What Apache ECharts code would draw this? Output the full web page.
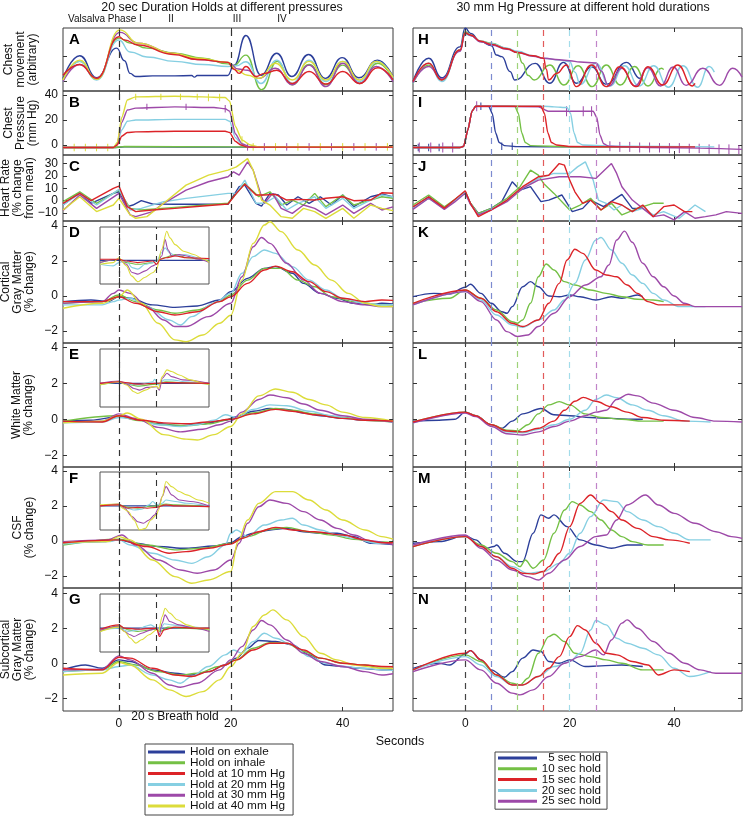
<!DOCTYPE html>
<html><head><meta charset="utf-8">
<script src="https://cdn.jsdelivr.net/npm/echarts@6/dist/echarts.min.js"></script>
<style>html,body{margin:0;padding:0;background:#fff}#c{width:743px;height:817px}</style>
</head><body><div id="c"></div>
<script>
const FONT = '"Liberation Sans", Arial, sans-serif';
const C_BLUE = '#2c3f9a', C_GREEN = '#74c045', C_RED = '#dc2328', C_CYAN = '#86cfe2', C_MAG = '#9d49a8', C_YEL = '#dcdc3a';

// ---- tick labels ----
const xTicks = [0, 20, 40];
const tickA = [1.5, 5.45];
const tickB = [0, 20, 40];
const tickC = [-10, 0, 10, 20, 30];
const tickBrain = [-2, 0, 2, 4];

// ---- legend names ----
const leftNames = ['Hold on exhale', 'Hold on inhale', 'Hold at 10 mm Hg', 'Hold at 20 mm Hg', 'Hold at 30 mm Hg', 'Hold at 40 mm Hg'];
const rightNames = ['5 sec hold', '10 sec hold', '15 sec hold', '20 sec hold', '25 sec hold'];
const holdEnds = [5, 10, 15, 20, 25];

// ===== LEFT COLUMN (time s, value) =====
// A chest movement (arbitrary)
const A_exh = [[-10,2.0],[-7,5.6],[-4,2.1],[-0.4,6.8],[1,4.8],[2,2.8],[3,2.3],[6,2.4],[10,2.4],[13,2.45],[13.5,2.2],[14,2.45],[19.4,2.45],[20.6,4.1],[22.7,8.8],[25.4,2.5],[28.2,6.0],[30.9,2.3],[33.9,5.8],[36.9,2.0],[39.9,5.3],[42.9,2.1],[46.2,4.9],[49,2.3]];
const A_inh = [[-10,1.75],[-7,4.7],[-4,1.85],[0,8.4],[2,7.6],[5,6.8],[10,6.0],[15,5.2],[19.5,4.3],[20.5,4.0],[22.7,5.7],[25.5,0.2],[28.3,4.7],[31,1.0],[34,4.2],[37,1.0],[40,4.1],[43,1.2],[46.3,4.4],[49,1.8]];
const A_10 = [[-10,2.5],[-7,4.2],[-4,2.0],[0,8.6],[1,8.1],[3.4,7.3],[9.7,5.8],[14,5.0],[19.5,4.55],[20.5,3.5],[21.5,2.8],[22.7,3.9],[24.5,2.3],[26,2.8],[28.2,3.3],[31,1.2],[34,3.1],[37,1.1],[40,3.1],[43,1.2],[46.3,3.7],[49,1.8]];
const A_20 = [[-10,1.5],[-7,4.7],[-4,1.75],[0,8.1],[2,6.2],[5,5.4],[10,4.7],[15,4.2],[19.5,3.9],[21,4.0],[22.7,4.65],[25.4,1.2],[28.2,4.9],[31,1.2],[34,4.9],[37,1.5],[40,4.7],[43,1.5],[46.2,4.7],[49,2.0]];
const A_30 = [[-10,1.5],[-7,4.2],[-4,2.0],[0.2,9.3],[3.4,7.6],[9.7,6.0],[14,5.0],[19.5,4.55],[21.3,3.5],[23,3.3],[25,2.0],[28,3.6],[31,1.0],[34,4.1],[37,0.7],[40,4.4],[43,1.2],[46,3.9],[49,1.5]];
const A_40 = [[-10,1.75],[-7,4.9],[-4,1.85],[0.2,9.7],[3.4,7.6],[9.7,6.0],[14,5.2],[19.5,4.55],[21,3.3],[23,2.5],[25,2.0],[28,4.4],[31,1.75],[34,4.7],[37,1.75],[40,4.7],[43,1.75],[46,4.7],[49,2.2]];
// B chest pressure (mm Hg)
const B_exh = [[-10,-2],[-1,-2],[1,-1.5],[20,-1.7],[49,-1.7]];
const B_inh = [[-10,-2],[-1,-2],[1,-1.2],[20,-1.5],[49,-1.7]];
const B_10 = [[-10,-2],[-1,-2],[-0.3,0],[0.5,7],[1.5,10],[3,10.5],[10,11],[19,11],[19.8,10],[20.8,3],[21.8,0],[23,-1.7],[49,-1.7]];
const B_20 = [[-10,-2],[-1,-2],[-0.3,1],[0.5,12],[1.5,19],[3,20],[10,20.5],[19,20.5],[19.8,19],[20.8,6],[22,0.5],[23,-1.7],[49,-1.7]];
const B_30 = [[-10,-2],[-1,-2],[-0.3,1],[0.5,18],[1.5,28],[3,29.5],[10,30.5],[17,30],[19,29],[19.8,27],[20.8,9],[22,1],[23.5,-1.7],[49,-1.7]];
const B_40 = [[-10,-2],[-1,-2],[-0.3,2],[0.5,22],[1.5,36],[3,38.5],[10,39],[15,38.5],[19,38],[19.8,35],[20.8,15],[22,4],[23.5,0],[25,-1.5],[49,-1.5]];
// B error bars [time, low, high]
const B_40_err = [[-8,-5,1],[-6,-5,1],[-4,-5,1],[-2,-5,1],[3,36,41],[7.5,36,41],[11,36,41],[14,36,41],[16,35,41],[18,35,41],[22,1,7],[24,-4.5,1.5],[28,-4.5,1.5],[32,-4.5,1.5],[36,-4.5,1.5],[40,-4.5,1.5],[44,-4.5,1.5],[48,-4.5,1.5]];
const B_30_err = [[5,28,33],[12,28,33],[19,26,32],[23,-4.5,1.5],[26,-4.5,1.5],[30,-4.5,1.5],[34,-4.5,1.5],[38,-4.5,1.5],[42,-4.5,1.5],[46,-4.5,1.5]];
// C heart rate (% change from mean)
const C_exh = [[-10,-3.5],[-7,6.7],[-5,-2.1],[-1,5.9],[0,7.2],[1.5,-4.8],[2.5,-3.5],[4,0],[6,-2.7],[10,-2.9],[15,-2.9],[19.5,-2.9],[21.5,11.3],[22.5,12.6],[24.5,-2.1],[25.5,-4.3],[27,5.9],[28.5,4.6],[30,-3.5],[32,3.2],[34,-2.1],[36,3.2],[38,-3.5],[40,4.6],[42,-4.8],[45,3.2],[47,5.4],[49,3]];
const C_inh = [[-10,-0.8],[-7,7.2],[-4,-2.1],[0,8.6],[2,-6.2],[4,-7.5],[10,-5.4],[19.5,-2.1],[22.5,13.9],[25,3.2],[27,7.2],[29,-3.5],[31,0.5],[33,-3.5],[35,5.9],[37,-4.8],[40,4.6],[42,-3.5],[45,0.5],[47,3.2],[49,2]];
const C_10 = [[-10,-2.1],[-7,5.9],[-5,0],[-1,9.9],[0,11.8],[1.5,-4.8],[3,-8.8],[6,-7.5],[10,-6.2],[15,-4.3],[19.5,-2.7],[21,5.9],[22.5,13.4],[24.5,4.6],[26,4.6],[28,5.1],[30,0.5],[32,1.1],[35,0.5],[37,2],[40,3.2],[42,0],[45,0.5],[47,6.4],[49,6]];
const C_20 = [[-10,-3.5],[-7,5.9],[-4,-3.5],[0,9.1],[2,-7.5],[4,-6.2],[8,-0.8],[12,1.9],[19.5,5.9],[21,6],[22.5,16.6],[24.5,-2.1],[26,-2.1],[28,3.2],[30,-7.5],[32,-2.1],[35,3.2],[37,-6.2],[40,1.9],[42,-6.2],[45,0.5],[47,4.6],[49,3]];
const C_30 = [[-10,-8.0],[-7,4.6],[-4,-6.2],[0,5.9],[2,-11.5],[3,-12.9],[6,-8.8],[8,-2.1],[12,8.6],[16,15.3],[19.5,19.3],[20.5,23.3],[21.5,20.6],[23,31.4],[24,24.7],[25.5,3.2],[26,-2.1],[27.5,5.9],[29,-6.2],[31,-10.2],[33,-3.5],[35,-6.2],[37,-11.5],[40,-3.5],[42,-10.2],[45,-2.1],[47,-7.5],[49,-5]];
const C_40 = [[-10,-7.5],[-7,3.2],[-4,-8.8],[-1,-3.5],[0,1.9],[2,-11.5],[3,-14.2],[5,-12.9],[8,-2.1],[12,12.6],[16,20.6],[19.5,24.7],[21,27.3],[23,34],[24,24.7],[25.5,0.5],[27,-3.5],[29,-12.9],[31,-14.2],[33,-6.2],[35,-8.8],[37,-14.2],[40,-6.2],[42,-14.2],[45,-3.5],[47,-6.2],[49,-8]];
// D cortical gray matter (% change)
const D_exh = [[-10,-0.32],[-5,-0.23],[-2,-0.32],[0,-0.04],[2,-0.13],[6,-0.51],[10,-0.65],[14,-0.57],[18,-0.23],[20,0.25],[23,1.01],[26,1.58],[28,1.68],[31,1.3],[33,0.72],[36,0.15],[39,-0.13],[42,-0.42],[45,-0.51],[47,-0.42],[49,-0.45]];
const D_inh = [[-10,-0.42],[-3,-0.32],[0,0.06],[3,-0.32],[7,-0.8],[10,-0.99],[14,-0.8],[18,-0.32],[20,0.06],[23,0.91],[26,1.58],[29,1.58],[32,0.91],[35,0.53],[38,-0.04],[42,-0.32],[47,-0.51],[49,-0.5]];
const D_10 = [[-10,-0.32],[-3,-0.32],[0,-0.04],[3,-0.42],[7,-0.9],[10,-1.09],[14,-0.9],[18,-0.32],[20,-0.04],[23,0.72],[26,1.49],[28,1.71],[31,1.39],[34,0.82],[37,0.25],[40,-0.13],[44,-0.32],[47,-0.23],[49,-0.25]];
const D_20 = [[-10,-0.51],[-3,-0.51],[-1,-0.32],[0,-0.23],[2,-0.13],[5,-0.61],[9,-1.37],[11,-1.66],[13,-1.18],[17,-0.42],[20,0.15],[22,1.3],[24,2.25],[26,2.63],[28,2.44],[31,1.68],[34,0.91],[37,0.34],[40,-0.13],[44,-0.42],[47,-0.51],[49,-0.5]];
const D_30 = [[-10,-0.42],[-3,-0.32],[-1,0.15],[0,0.34],[2,0.15],[5,-0.61],[8,-1.37],[10,-1.75],[12,-1.75],[16,-1.18],[20,-0.42],[22,1.1],[24,2.82],[25.5,3.35],[27,3.01],[30,1.87],[33,0.91],[36,0.15],[40,-0.32],[44,-0.51],[47,-0.61],[49,-0.6]];
const D_40 = [[-10,-0.7],[-3,-0.42],[0,-0.04],[1.5,0.34],[4,-0.42],[7,-1.56],[10,-2.51],[12,-2.61],[15,-2.23],[18,-1.56],[20,-1.1],[22,0.91],[24,3.01],[26,4.06],[27,4.25],[29,3.68],[32,2.63],[35,1.77],[38,0.91],[41,0.15],[44,-0.42],[47,-0.61],[49,-0.6]];
// D inset
const Di_exh = [[-10,0],[48,0]];
const Di_inh = [[-10,-0.13],[0,0.06],[4,-0.13],[10,-0.23],[18,-0.13],[20,-0.04],[24,0.15],[30,0.34],[36,0.15],[48,-0.04]];
const Di_10 = [[-10,0.06],[0,0.06],[4,-0.04],[10,-0.13],[18,-0.04],[20,-0.23],[22,0.06],[25,0.15],[30,0.25],[36,0.15],[48,0.1]];
const Di_20 = [[-10,-0.23],[-3,-0.32],[0,-0.13],[4,-0.04],[7,-0.42],[10,-0.51],[14,-0.23],[18,-0.13],[20,-0.04],[22.7,0.44],[24.5,0.72],[27,0.44],[30,0.25],[35,0.34],[42,0.15],[48,-0.13]];
const Di_30 = [[-10,-0.13],[0,0.06],[4,-0.23],[7,-0.7],[10,-0.8],[14,-0.61],[18,-0.32],[20,-0.23],[22.7,0.25],[24.5,1.2],[26,0.63],[28,0.25],[32,0.34],[36,0.25],[42,0.06],[48,-0.13]];
const Di_40 = [[-10,-0.23],[-3,-0.13],[0,0.15],[4,-0.32],[6.7,-0.9],[10.2,-1.24],[13.7,-0.99],[18.2,-0.7],[20,-0.51],[22.7,0.63],[25.4,1.68],[27.1,1.3],[29.8,0.91],[34.3,0.53],[39.7,0.34],[45,0.06],[48,-0.13]];
// E white matter (% change)
const E_exh = [[-10,-0.1],[-5,-0.05],[0,0.15],[3,0],[7,-0.25],[11,-0.35],[15,-0.25],[19,-0.05],[21,0.15],[24,0.45],[27,0.6],[30,0.55],[33,0.35],[36,0.2],[40,0.05],[44,-0.05],[49,-0.1]];
const E_inh = [[-10,-0.1],[0,0.2],[3,-0.05],[8,-0.3],[12,-0.35],[16,-0.25],[20,0],[24,0.35],[28,0.6],[31,0.5],[35,0.3],[40,0.1],[44,-0.05],[49,-0.15]];
const E_10 = [[-10,-0.1],[-3,-0.15],[0,0.2],[4,-0.05],[8,-0.2],[12,-0.25],[16,-0.15],[20,0.0],[24,0.3],[28,0.55],[31,0.45],[35,0.25],[40,0.05],[44,-0.05],[49,-0.1]];
const E_20 = [[-10,-0.2],[-3,-0.15],[0,0.1],[3,0.0],[7,-0.3],[11,-0.4],[14,-0.3],[17,-0.05],[19,0.25],[21,0.1],[24,0.55],[27,0.8],[30,0.75],[34,0.45],[38,0.2],[42,0.0],[49,-0.15]];
const E_30 = [[-10,-0.15],[-3,-0.1],[0,0.3],[3,0.05],[7,-0.45],[11,-0.7],[15,-0.55],[18,-0.3],[20,-0.1],[22,0.4],[25,1.1],[27,1.35],[30,1.2],[33,0.85],[36,0.5],[40,0.2],[44,0.0],[49,-0.15]];
const E_40 = [[-10,-0.2],[-3,-0.1],[0,0.2],[1.5,0.35],[4,0],[8,-0.85],[12,-1.1],[14,-1.15],[17,-0.85],[20,-0.4],[22,0.3],[25,1.3],[28,1.68],[31,1.5],[34,1.1],[37,0.8],[40,0.4],[44,0.1],[49,-0.1]];
// E inset
const Ei_exh = [[-10,0],[48,0]];
const Ei_inh = [[-10,-0.07],[0,0.07],[10,-0.15],[20,-0.04],[25,0.09],[35,0.04],[48,-0.04]];
const Ei_10 = [[-10,0],[0,0.09],[10,-0.04],[20,0],[25,0.04],[48,0]];
const Ei_20 = [[-10,-0.04],[0,0.07],[10,-0.09],[18,0.09],[19,0.22],[21,-0.09],[24,0.19],[28,0.19],[35,0.09],[48,0]];
const Ei_30 = [[-10,0],[0,0.13],[4,-0.04],[8,-0.28],[11,-0.37],[15,-0.22],[20,-0.19],[21.5,-0.37],[23,0.28],[25.5,0.56],[28,0.37],[34,0.19],[48,0]];
const Ei_40 = [[-10,-0.09],[0,0.09],[4,-0.09],[8,-0.46],[10,-0.56],[14,-0.37],[18,-0.19],[20,-0.15],[21,-0.28],[23,0.37],[25.5,0.74],[28,0.65],[32,0.46],[38,0.19],[45,0],[48,-0.04]];
// F CSF (% change)
const F_exh = [[-10,-0.13],[-3,-0.04],[0,0.06],[3,-0.13],[7,-0.32],[12,-0.42],[17,-0.29],[20,-0.1],[22,0.25],[24,0.44],[27,0.63],[30,0.72],[33,0.53],[36,0.44],[39,0.44],[42,0.25],[45,-0.13],[49,-0.2]];
const F_inh = [[-10,-0.23],[0,0.1],[5,-0.23],[10,-0.51],[15,-0.42],[20,-0.13],[23,0.25],[27,0.67],[30,0.78],[34,0.53],[38,0.34],[42,0.1],[46,-0.04],[49,-0.1]];
const F_10 = [[-10,-0.1],[0,0.06],[5,-0.32],[9,-0.7],[12,-0.61],[16,-0.42],[20,-0.17],[22,0.15],[25,0.53],[28,0.78],[31,0.63],[35,0.53],[40,0.34],[44,0.06],[47,-0.1],[49,-0.1]];
const F_20 = [[-10,-0.17],[-2,-0.04],[0,0.06],[2,-0.23],[6,-0.7],[10,-1.09],[13,-1.28],[16,-0.9],[19,-0.23],[20,0.44],[21,0.63],[23,0.25],[26,0.91],[29,1.2],[31,1.3],[33,0.91],[36,0.63],[39,0.34],[42,0.15],[46,-0.13],[49,-0.15]];
const F_30 = [[-10,-0.04],[-2,0.06],[0.5,0.34],[3,-0.23],[7,-1.09],[11,-1.66],[14,-1.85],[17,-1.66],[20,-1.09],[21.5,-0.13],[23,1.01],[25,1.96],[27,2.34],[30,2.15],[33,1.68],[36,1.2],[39,0.72],[42,0.34],[45,0],[49,-0.2]];
const F_40 = [[-10,-0.1],[-2,-0.04],[0,0.25],[2,0.06],[6,-1.09],[10,-2.04],[13,-2.42],[16,-2.23],[20,-1.75],[21.3,0],[23,1.2],[25,2.15],[28,2.82],[31,2.82],[34,2.34],[37,1.77],[40,1.2],[44,0.63],[47,0.25],[49,0.1]];
// F inset
const Fi_exh = [[-10,0],[48,0]];
const Fi_inh = [[-10,0],[0,0.06],[5,-0.08],[10,-0.13],[15,-0.04],[20,0],[25,0.11],[30,0.06],[48,-0.04]];
const Fi_10 = [[-10,0],[0,0.06],[5,-0.13],[10,-0.08],[15,-0.13],[20,-0.08],[25,0.06],[30,0],[48,-0.04]];
const Fi_20 = [[-10,0],[0,0.06],[4,-0.13],[8,-0.23],[12,-0.19],[16,0.06],[18,0.25],[20,0.06],[23,0.15],[25,0.34],[30,0.25],[36,0.15],[48,0]];
const Fi_30 = [[-10,0],[0,0.11],[3,-0.13],[7,-0.61],[10,-0.9],[13,-0.99],[16,-0.8],[19,-0.51],[21,-0.13],[23,0.53],[25,1.1],[28,0.63],[32,0.34],[38,0.25],[48,0]];
const Fi_40 = [[-10,0.06],[0,0.11],[2,-0.13],[5,-0.32],[8,-0.8],[11,-1.37],[14,-1.28],[17,-0.8],[20,-0.51],[21,-0.23],[23,0.53],[25,1.39],[28,1.1],[32,0.82],[36,0.63],[42,0.34],[48,0.15]];
// G subcortical gray matter (% change)
const G_exh = [[-10,-0.38],[-6,-0.1],[-3,-0.29],[0,0.19],[2,0.1],[6,-0.38],[10,-0.57],[13,-0.67],[16,-0.48],[19,-0.1],[21,0.29],[23,0.86],[25,1.3],[28,1.24],[31,1.05],[34,0.48],[37,-0.1],[40,-0.19],[43,-0.29],[47,-0.38],[49,-0.35]];
const G_inh = [[-10,-0.48],[-3,-0.38],[0,0.1],[3,-0.1],[7,-0.48],[11,-0.67],[14,-0.57],[18,-0.19],[21,0.19],[24,0.86],[27,1.18],[30,1.14],[33,0.67],[36,0.29],[40,0],[44,-0.1],[47,-0.29],[49,-0.3]];
const G_10 = [[-10,-0.29],[-3,-0.38],[0,0.34],[2,0.29],[6,-0.29],[10,-0.67],[13,-0.76],[16,-0.48],[19,-0.1],[21,0.19],[24,0.76],[27,1.14],[30,1.14],[33,0.76],[36,0.29],[40,0],[44,-0.1],[47,-0.19],[49,-0.2]];
const G_20 = [[-10,-0.48],[-3,-0.38],[0,-0.19],[2,-0.1],[6,-0.67],[9,-0.95],[11,-1.14],[13,-0.76],[16,-0.19],[19,0.48],[20.5,0.76],[22,0.57],[24,1.24],[26,1.71],[28,1.43],[31,1.05],[34,0.38],[37,0],[40,-0.19],[44,-0.29],[47,-0.38],[49,-0.4]];
const G_30 = [[-10,-0.38],[-3,-0.34],[0,0.42],[2,0.19],[6,-0.57],[9,-1.24],[11,-1.37],[14,-1.14],[18,-0.38],[20,0.19],[22,0.95],[24,1.9],[25.5,2.44],[27,2.19],[30,1.33],[33,0.57],[36,0.1],[40,-0.19],[44,-0.48],[47,-0.67],[49,-0.6]];
const G_40 = [[-10,-0.67],[-3,-0.57],[0,0.04],[2,-0.1],[6,-0.95],[9,-1.52],[12,-1.9],[15,-1.62],[18,-0.95],[20,-0.19],[22,0.57],[24,2.1],[26,2.76],[27.5,3.05],[30,2.48],[33,1.52],[36,0.57],[39,0.19],[42,-0.1],[47,-0.29],[49,-0.3]];
// G inset
const Gi_exh = [[-10,0],[48,0]];
const Gi_inh = [[-10,-0.19],[0,0.13],[5,-0.1],[10,-0.19],[20,-0.06],[22,-0.19],[26,0.06],[35,0],[48,-0.1]];
const Gi_10 = [[-10,-0.06],[0,0.19],[3,0],[10,-0.06],[20,0],[21.5,-0.48],[24,-0.1],[30,0.06],[40,0],[48,0]];
const Gi_20 = [[-10,-0.1],[0,0],[5,-0.19],[10,-0.1],[14,0.1],[17,0.19],[20,0],[22,-0.1],[24,0.25],[28,0.19],[35,0.1],[48,-0.06]];
const Gi_30 = [[-10,-0.13],[0,0.1],[3,-0.19],[6,-0.38],[8,-0.48],[12,-0.29],[17,-0.1],[20,0],[21.5,-0.38],[23,0.29],[24.5,0.76],[27,0.38],[32,0.19],[40,0],[48,-0.19]];
const Gi_40 = [[-10,-0.19],[0,0.06],[3,-0.19],[6,-0.57],[9,-0.86],[12,-0.67],[16,-0.38],[20,-0.1],[21,-0.19],[23,0.67],[24.5,1.14],[27,0.86],[31,0.48],[36,0.19],[42,0],[48,-0.06]];

// ===== RIGHT COLUMN =====
// H chest movement
const H_5 = [[-10,1.5],[-7,5.2],[-4.5,2.1],[-1,7],[0,10],[1,9.15],[3,7.83],[5,7.2],[6,5.71],[7,5.45],[8.6,3.07],[9.5,1.75],[13.4,4.39],[16.2,1.22],[18.8,4.55],[21.3,1.22],[24.2,3.86],[27,1.06],[30.9,4.55],[33.5,2.0],[34,2.54]];
const H_10 = [[-10,1.2],[-7,4.1],[-4.5,1.75],[-1,6.5],[0,9.42],[1,8.9],[3,7.9],[5,7.57],[8,6.77],[10,6.1],[11,4.4],[12,2.5],[13.2,1.75],[16.2,4.13],[18.9,0.95],[21.6,4.0],[24.3,0.69],[27,4.13],[29.7,0.95],[32.4,3.9],[35,0.8],[37.6,3.6],[38,3.4]];
const H_15 = [[-10,1.5],[-7,4.4],[-4.5,1.75],[-1,6.5],[0,9.2],[1,8.9],[3,7.9],[5,7.4],[8,6.7],[10,6.1],[13,5.6],[15,5.2],[15.5,3.5],[16,1.75],[17.5,2.8],[19.4,4.13],[21.3,0.69],[24.2,4.13],[27,0.69],[29.6,3.86],[32.8,0.69],[35,3.86],[37.8,0.95],[40.7,4.13],[43.5,0.8],[44,1.2]];
const H_20 = [[-10,1.2],[-7,4.4],[-4.5,1.5],[-1,6.5],[0,9.0],[1,8.8],[3,7.9],[5,7.5],[8,6.8],[10,6.3],[13,5.6],[15,5.2],[18,4.9],[20,4.65],[21,3.0],[22,1.06],[25,4.4],[27.7,0.8],[30.5,4.0],[33.3,0.8],[36.1,4.0],[38.9,0.6],[41.7,4.0],[44.5,0.6],[46.7,3.9],[47.7,3.0]];
const H_25 = [[-10,1.3],[-7,3.9],[-4.5,1.9],[-1,6.3],[0,9.2],[1,8.8],[3,7.8],[5,7.3],[8,6.6],[10,6.1],[13,5.5],[15,5.2],[18,4.95],[20,4.8],[22,4.6],[25,4.45],[26,3.2],[27.5,0.8],[30,3.6],[32.5,0.8],[35,3.7],[37.4,0.8],[39.8,3.8],[42.3,0.9],[45.5,3.6],[48.7,0.9],[51.2,3.6],[53,2.2]];
// I chest pressure
const I_5 = [[-10,-2],[-1,-2],[-0.3,-1],[0.5,12],[1.3,27],[2,31],[4.5,31],[5.2,25],[5.8,10],[6.5,2],[7.5,-0.5],[10,-1.3],[20,-1.5],[34,-1.5]];
const I_10 = [[-10,-2],[-1,-2],[-0.3,-1],[0.5,12],[1.3,27],[2,31],[9.5,31],[10.2,25],[10.8,10],[11.5,2],[12.5,-0.5],[20,-1.5],[38,-1.5]];
const I_15 = [[-10,-2],[-1,-2],[-0.3,-1],[0.5,12],[1.3,27],[2,31],[14.5,31],[15.2,25],[15.8,10],[16.5,2],[17.5,0],[20,-1.2],[30,-1.5],[44,-1.5]];
const I_20 = [[-10,-2],[-1,-2],[-0.3,-1],[0.5,12],[1.3,27],[2,31],[15,31],[17,30.5],[19.5,30],[20.2,25],[20.8,10],[21.5,2],[22.5,0],[30,-1],[47.7,-1.5]];
const I_25 = [[-10,-2],[-1,-2],[-0.3,-1],[0.5,12],[1.3,27],[2,31],[14,30.5],[16,27],[24.5,27],[25.2,22],[25.8,8],[26.5,1],[27.5,-1],[35,-2],[45,-2.5],[53,-3.5]];
// I error bars [time, low, high]
const I_25_err = [[-8.8,-6,2],[-6.6,-6,2],[-4.3,-6,2],[-2.4,-6,2],[2.2,27,35],[19.4,23,31],[22.6,23,31],[24.2,23,31],[27.7,-5,3],[29.6,-5.5,2.5],[31.5,-5.5,2.5],[33.4,-6,2],[35.3,-6,2],[37.2,-6,1.5],[39.1,-6.5,1.5],[41,-6.5,1.5],[42.9,-6.5,1],[44.8,-6.5,1],[46.7,-7,0.5],[48.6,-7,0.5],[50.5,-7.5,0.5],[52.4,-7.5,0]];
const I_5_err = [[-9,-5,1],[-7,-5,1],[-5,-5,1],[3,28,34],[7,-4,2],[9,-4,2]];
// J heart rate
const J_5 = [[-10,-6.2],[-7,3.2],[-4,-6.2],[-2,0.5],[0,7.2],[1,-2.1],[2.5,-10.2],[5,-6.2],[7,-0.8],[9,15.3],[10.5,8.6],[12.5,11.3],[14.5,-0.8],[16,0.5],[18.5,4.6],[20.5,-8.8],[22.5,-6.2],[24,0.5],[26.5,-4.8],[30,5.1],[32,-6.2],[34,-6.2]];
const J_10 = [[-10,-3.5],[-7,4.6],[-4,-5],[-2,1],[0,7.2],[1,-2.1],[2.5,-10.2],[5,-6.2],[8,1.9],[10.5,11.3],[12.5,24.7],[14,20.6],[15,13.9],[17,5.9],[20,-7.5],[22,-3.5],[24,1.9],[26,-7.5],[28,-2.1],[30,-11.5],[33,-6.2],[36,-2.1],[38,-2.1]];
const J_15 = [[-10,-5],[-7,3.2],[-4,-6],[-2,1],[0,8],[1,-2.1],[2.5,-12.9],[5,-7.5],[8,0.5],[11,11.3],[14,19.3],[16,20.6],[18,30],[19,28.7],[20,16.6],[21,7.2],[22.5,-2.1],[24,0.5],[26,-7.5],[28,-0.8],[30,-3.5],[32,-8.8],[34,-3.5],[36,-12.9],[38,-4.8],[40,-3.5],[42,-8.8],[43.5,-8.8]];
const J_20 = [[-10,-6],[-7,2],[-4,-6.5],[-2,0],[0,6.5],[1,-2.5],[2.5,-11.5],[5,-7],[8,0.5],[11,9.9],[14,18],[17,22],[20,22],[21.5,27.3],[23,31.4],[24.5,16.6],[25.5,0.5],[27,-2.1],[28.5,-7.5],[30,-3.5],[32,-8.8],[34,-6.2],[36,-11.5],[38,-8.8],[41,-14.2],[44,-3.5],[46,-8.8]];
const J_25 = [[-10,-7],[-7,2],[-4,-7],[-2,-1],[0,6],[1,-3],[2.5,-11.5],[5,-7.5],[8,-0.8],[11,9.9],[14,16.6],[18,19.3],[22,19.3],[25,18],[26,22],[28,30],[29,22],[30,11.3],[32,0.5],[34,-6.2],[36,-12.9],[38,-11.5],[40,-15.5],[42,-8.8],[44,-14.2],[46,-12.9],[48,-11.5],[50,-8.8],[53,-10.2]];
// K cortical gray matter
const K_5 = [[-10,-0.04],[-6,0.15],[-3,0.11],[0,0.5],[1,0.67],[3,0.15],[5,-0.42],[7,-0.9],[8,-0.99],[9,-0.61],[11,0.53],[12.5,0.82],[14,0.53],[16,0],[18,-0.04],[20,0.06],[22,-0.04],[25,-0.23],[28,-0.04],[30,-0.13],[33,0.06],[34,-0.04]];
const K_10 = [[-10,-0.42],[-3,-0.13],[0,0.34],[3,-0.13],[6,-0.8],[9,-1.47],[10,-1.56],[11,-1.37],[12.5,-0.42],[14,1.1],[15.5,1.83],[17,1.49],[19,0.82],[21,0.63],[24,0.34],[27,0.15],[30,-0.04],[33,-0.19],[36,-0.23],[38,-0.32]];
const K_15 = [[-10,-0.42],[0,0.34],[3,-0.13],[6,-0.9],[9,-1.56],[11,-1.75],[14,-1.37],[16,-0.42],[18,0.72],[19.5,2.06],[21,2.67],[22.5,2.44],[25,1.49],[27,1.2],[29,1.1],[31,0.63],[33,0.15],[35,-0.32],[37,-0.51],[40,-0.51],[43,-0.51]];
const K_20 = [[-10,-0.51],[0,0.25],[3,-0.23],[6,-1.09],[9,-1.66],[11,-1.79],[14,-1.37],[17,-0.8],[19,-0.23],[21,0.72],[23,2.06],[25,3.2],[26,3.35],[28,2.63],[30,1.87],[32,1.2],[34,0.72],[36,0.15],[38,-0.23],[41,-0.61],[46,-0.61]];
const K_25 = [[-10,-0.51],[0,0.25],[3,-0.32],[6,-1.37],[8,-2.04],[10,-2.32],[12,-2.23],[14,-1.75],[17,-0.99],[20,-0.04],[23,0.63],[26,1.1],[27.5,1.77],[29,3.2],[30.5,3.71],[32,3.07],[34,1.87],[36,1.1],[38,0.53],[40,0],[42,-0.42],[44,-0.61],[47,-0.61],[53,-0.61]];
// L white matter
const L_5 = [[-10,-0.1],[-5,-0.05],[-2,0.0],[0,0.4],[2,0.2],[5,-0.3],[7,-0.5],[9,-0.1],[11,0.3],[14.5,0.6],[17,0.25],[20,0.2],[24,0.1],[28,0.05],[32,0.0],[34,0.0]];
const L_10 = [[-10,-0.15],[0,0.4],[2,0.2],[5,-0.3],[8,-0.6],[10,-0.65],[12,-0.3],[14,0.3],[16,0.8],[18,0.98],[20,0.8],[23,0.3],[26,0.1],[30,0.0],[34,-0.1],[38,-0.1]];
const L_15 = [[-10,-0.15],[0,0.4],[2,0.2],[5,-0.3],[8,-0.65],[11,-0.7],[14,-0.5],[17,-0.1],[19,0.5],[21,1.0],[22.6,1.22],[25,1.0],[28,0.7],[31,0.4],[34,0.1],[38,-0.05],[43,-0.1]];
const L_20 = [[-10,-0.2],[0,0.38],[2,0.2],[5,-0.35],[8,-0.7],[11,-0.75],[14,-0.55],[17,-0.3],[20,0.0],[23,0.5],[25,1.1],[27,1.35],[29,1.2],[32,0.8],[35,0.5],[38,0.2],[42,-0.1],[47,-0.15]];
const L_25 = [[-10,-0.2],[0,0.35],[2,0.15],[5,-0.4],[8,-0.8],[11,-0.87],[14,-0.7],[17,-0.4],[20,-0.1],[23,0.2],[25,0.4],[27,0.5],[29,1.1],[31.2,1.39],[33,1.3],[36,0.9],[40,0.5],[44,0.1],[48,-0.1],[53,-0.15]];
// M CSF
const M_5 = [[-10,-0.13],[-5,-0.04],[0,0.29],[2,0.06],[4,-0.42],[5.5,-0.32],[6,-0.23],[7.5,-0.7],[10,-1.18],[11,-1.18],[13,0.44],[14.5,1.49],[16,1.3],[17,1.49],[19.5,0.82],[22,0.06],[25,-0.23],[28,-0.42],[31,-0.23],[34,-0.23]];
const M_10 = [[-10,-0.32],[0,0.25],[3,-0.23],[6,-0.7],[9,-1.18],[10.5,-1.47],[11.5,-1.09],[13,-1.56],[15,-1.09],[17,0.44],[19,1.77],[20.5,2.25],[22,2.06],[24,1.68],[26,1.2],[28,0.63],[30,0.25],[32,-0.04],[35,-0.23],[38,-0.23]];
const M_15 = [[-10,-0.32],[0,0.25],[3,-0.32],[6,-0.9],[9,-1.56],[11,-1.85],[13,-1.89],[15,-1.75],[16,-1.47],[18,-0.7],[20,0.82],[22,2.15],[24,2.63],[26,2.15],[28,1.68],[30,1.2],[33,0.72],[36,0.25],[39,0.06],[43,-0.13]];
const M_20 = [[-10,-0.23],[0,0.25],[3,-0.32],[6,-0.9],[9,-1.47],[12,-1.85],[15,-1.75],[18,-1.28],[20,-0.7],[22,0.44],[24,1.39],[26.5,2.34],[29,2.25],[31,1.68],[34,1.2],[37,0.82],[40,0.44],[43,0.06],[47,0.06]];
const M_25 = [[-10,-0.23],[0,0.34],[3,-0.42],[6,-1.09],[9,-1.66],[12,-2.04],[14,-2.23],[16,-1.85],[19,-1.09],[22,-0.32],[25,0.25],[27,0.34],[29,1.2],[31,2.06],[34.5,2.63],[37,2.06],[40,1.58],[44,1.01],[48,0.53],[51,0.25],[53,0.15]];
// N subcortical gray matter
const N_5 = [[-10,-0.29],[-5,0],[-3,-0.1],[0,0.53],[1,0.72],[3,0.19],[5,-0.38],[7.5,-0.8],[9,-0.48],[11,0.29],[13,0.76],[14.5,0.67],[16,0.1],[18,0],[20,0.19],[23,-0.19],[26,-0.15],[30,-0.1],[34,-0.19]];
const N_10 = [[-10,-0.38],[0,0.48],[3,0.1],[6,-0.67],[9,-1.14],[10.5,-1.24],[12,-0.86],[14,0.57],[16,1.52],[17,1.66],[19,1.24],[21,0.57],[24,0.38],[27,0.19],[30,0],[34,-0.38],[38,-0.38]];
const N_15 = [[-10,-0.38],[0,0.57],[1,0.72],[3,0.19],[6,-0.67],[9,-1.24],[11,-1.24],[14,-0.76],[16,-0.29],[18,0.38],[20,1.52],[21.5,2.15],[23,1.9],[25,1.14],[27,0.57],[29,0.48],[32,0.1],[35,-0.1],[37,-0.67],[40,-0.38],[43,-0.48]];
const N_20 = [[-10,-0.38],[0,0.38],[3,-0.1],[6,-0.76],[9,-1.24],[11,-1.24],[14,-0.76],[17,-0.19],[20,0.1],[22,0.57],[24,1.9],[25,2.44],[27,2.19],[29,1.43],[31,1.14],[34,0.86],[37,0.48],[40,-0.29],[43,-0.76],[47,-0.48]];
const N_25 = [[-10,-0.48],[0,0.19],[3,-0.38],[6,-1.14],[9,-1.71],[10.5,-1.81],[13,-1.52],[16,-0.76],[19,0],[22,0.38],[25,0.76],[26.5,0.48],[28,1.33],[30,2.29],[31,2.48],[33,2.0],[36,1.24],[39,0.57],[42,0],[45,-0.38],[48,-0.57],[53,-0.57]];

// ===== layout & build =====
const leftColors = [C_BLUE, C_GREEN, C_RED, C_CYAN, C_MAG, C_YEL];
const rightColors = [C_BLUE, C_GREEN, C_RED, C_CYAN, C_MAG];
const leftDraw = [0, 1, 3, 4, 5, 2];
const rightDraw = [0, 1, 3, 4, 2];

const ROWS = [
  {top: 28, h: 63, min: 0, max: 10, ticks: tickA, smooth: 0.5, name: 'Chest\nmovement\n(arbitrary)', lx: 21, L: 'A', R: 'H',
   left: [A_exh, A_inh, A_10, A_20, A_30, A_40], right: [H_5, H_10, H_15, H_20, H_25]},
  {top: 91, h: 64, min: -8, max: 43.2, ticks: tickB, smooth: 0.2, name: 'Chest\nPresssure\n(mm Hg)', lx: 21, L: 'B', R: 'I',
   left: [B_exh, B_inh, B_10, B_20, B_30, B_40], right: [I_5, I_10, I_15, I_20, I_25],
   errL: [[B_30_err, C_MAG], [B_40_err, C_YEL]], errR: [[I_5_err, C_BLUE], [I_25_err, C_MAG]]},
  {top: 155, h: 66, min: -16.4, max: 36.9, ticks: tickC, smooth: false, name: 'Heart Rate\n(% change\nfrom mean)', lx: 18, L: 'C', R: 'J',
   left: [C_exh, C_inh, C_10, C_20, C_30, C_40], right: [J_5, J_10, J_15, J_20, J_25]},
  {top: 221, h: 122, min: -2.69, max: 4.29, ticks: tickBrain, smooth: 0.35, name: 'Cortical\nGray Matter\n(% change)', lx: 18, L: 'D', R: 'K',
   left: [D_exh, D_inh, D_10, D_20, D_30, D_40], right: [K_5, K_10, K_15, K_20, K_25],
   inset: {top: 227, h: 57, min: -1.37, max: 1.93, data: [Di_exh, Di_inh, Di_10, Di_20, Di_30, Di_40]}},
  {top: 343, h: 124, min: -2.65, max: 4.24, ticks: tickBrain, smooth: 0.35, name: 'White Matter\n(% change)', lx: 23, L: 'E', R: 'L',
   left: [E_exh, E_inh, E_10, E_20, E_30, E_40], right: [L_5, L_10, L_15, L_20, L_25],
   inset: {top: 349, h: 58, min: -1.3, max: 1.89, data: [Ei_exh, Ei_inh, Ei_10, Ei_20, Ei_30, Ei_40]}},
  {top: 467, h: 121, min: -2.69, max: 4.23, ticks: tickBrain, smooth: 0.35, name: 'CSF\n(% change)', lx: 24, L: 'F', R: 'M',
   left: [F_exh, F_inh, F_10, F_20, F_30, F_40], right: [M_5, M_10, M_15, M_20, M_25],
   inset: {top: 472, h: 58, min: -1.37, max: 1.93, data: [Fi_exh, Fi_inh, Fi_10, Fi_20, Fi_30, Fi_40]}},
  {top: 588, h: 123, min: -2.73, max: 4.3, ticks: tickBrain, smooth: 0.35, name: 'Subcortical\nGray Matter\n(% change)', lx: 18, L: 'G', R: 'N',
   left: [G_exh, G_inh, G_10, G_20, G_30, G_40], right: [N_5, N_10, N_15, N_20, N_25],
   inset: {top: 594, h: 58, min: -1.37, max: 1.96, data: [Gi_exh, Gi_inh, Gi_10, Gi_20, Gi_30, Gi_40]}}
];

const grids = [], xAxes = [], yAxes = [], series = [], texts = [];
const minusFmt = v => String(v).replace('-', '\u2212');

function addGrid(c) {
  const g = grids.length;
  grids.push({left: c.left, top: c.top, width: c.width, height: c.height, show: true,
    borderColor: c.border || '#3a3a3a', borderWidth: 1, backgroundColor: c.bg || 'transparent'});
  const tk = vals => ({show: !c.noTicks, inside: true, length: 4, customValues: vals, lineStyle: {color: '#333', width: 1}});
  const lab = {fontSize: 12, color: '#111', fontFamily: FONT};
  const noLine = {show: false, onZero: false};
  xAxes.push({type: 'value', gridIndex: g, position: 'bottom', min: c.xmin, max: c.xmax,
    axisLine: noLine, splitLine: {show: false}, axisTick: tk(xTicks),
    axisLabel: Object.assign({show: !!c.xLabels, customValues: xTicks, margin: 7}, lab)});
  xAxes.push({type: 'value', gridIndex: g, position: 'top', min: c.xmin, max: c.xmax,
    axisLine: noLine, splitLine: {show: false}, axisTick: tk(xTicks), axisLabel: {show: false}});
  yAxes.push({type: 'value', gridIndex: g, position: 'left', min: c.ymin, max: c.ymax,
    axisLine: noLine, splitLine: {show: false}, axisTick: tk(c.yTicks || []),
    axisLabel: Object.assign({show: !!c.yLabels, customValues: c.yTicks || [], margin: 5, formatter: minusFmt}, lab)});
  yAxes.push({type: 'value', gridIndex: g, position: 'right', min: c.ymin, max: c.ymax,
    axisLine: noLine, splitLine: {show: false}, axisTick: tk(c.yTicks || []), axisLabel: {show: false}});
  return g;
}

function addLine(g, name, color, data, smooth, markLine, width) {
  const s = {type: 'line', name, xAxisIndex: 2 * g, yAxisIndex: 2 * g, data, color,
    showSymbol: false, symbol: 'none', smooth: smooth, smoothMonotone: 'x', clip: true,
    lineStyle: {color, width: width || 1.4}, itemStyle: {color}, silent: true, animation: false};
  if (markLine) s.markLine = markLine;
  series.push(s);
}

function addErr(g, data, color) {
  series.push({type: 'custom', xAxisIndex: 2 * g, yAxisIndex: 2 * g, data, silent: true, animation: false, clip: true,
    encode: {x: 0, y: [1, 2]},
    renderItem: (params, api) => {
      const a = api.coord([api.value(0), api.value(1)]);
      const b = api.coord([api.value(0), api.value(2)]);
      return {type: 'line', shape: {x1: a[0], y1: a[1], x2: b[0], y2: b[1]}, style: {stroke: color, lineWidth: 1}};
    }});
}

function vLines(items) {
  return {silent: true, symbol: ['none', 'none'], label: {show: false}, animation: false,
    data: items.map(([x, col, w]) => ({xAxis: x, lineStyle: {color: col, type: [6, 5], width: w || 1.2}}))};
}

const dashCols = ['#7d8bd0', '#9fd27a', '#e25a5a', '#a3dcea', '#c184c9'];

ROWS.forEach((r, ri) => {
  const last = ri === ROWS.length - 1;
  // left panel
  const gl = addGrid({left: 63, top: r.top, width: 330, height: r.h, xmin: -10, xmax: 49,
    ymin: r.min, ymax: r.max, yTicks: r.ticks, yLabels: ri > 0, xLabels: last});
  if (r.errL) r.errL.forEach(([d, c]) => addErr(gl, d, c));
  leftDraw.forEach((i, k) => addLine(gl, leftNames[i], leftColors[i], r.left[i], r.smooth,
    k === 0 ? vLines([[0, '#333'], [20, '#333']]) : null));
  // right panel
  const gr = addGrid({left: 413, top: r.top, width: 329, height: r.h, xmin: -10, xmax: 53,
    ymin: r.min, ymax: r.max, yTicks: r.ticks, yLabels: false, xLabels: last});
  if (r.errR) r.errR.forEach(([d, c]) => addErr(gr, d, c));
  const marks = [[0, '#444']].concat(holdEnds.map((t, i) => [t, dashCols[i]]));
  rightDraw.forEach((i, k) => addLine(gr, rightNames[i], rightColors[i], r.right[i], r.smooth,
    k === 0 ? vLines(marks) : null));
  // inset
  if (r.inset) {
    const gi = addGrid({left: 100, top: r.inset.top, width: 109, height: r.inset.h, xmin: -10, xmax: 47.8,
      ymin: r.inset.min, ymax: r.inset.max, noTicks: true, border: '#555', bg: '#fff'});
    leftDraw.forEach((i, k) => addLine(gi, leftNames[i], leftColors[i], r.inset.data[i], 0.3,
      k === 0 ? vLines([[0, '#333', 1.1], [20, '#333', 1.1]]) : null, 1.1));
  }
  // texts
  texts.push({type: 'text', x: r.lx, y: r.top + r.h / 2, rotation: Math.PI / 2,
    style: {text: r.name, font: '12px ' + FONT, lineHeight: 12, fill: '#111',
      align: 'center', verticalAlign: 'middle', textAlign: 'center', textVerticalAlign: 'middle'}});
  texts.push({type: 'text', x: 69, y: r.top + 4,
    style: {text: r.L, font: 'bold 15px ' + FONT, fill: '#000', align: 'left', verticalAlign: 'top', textAlign: 'left', textVerticalAlign: 'top'}});
  texts.push({type: 'text', x: 418, y: r.top + 4,
    style: {text: r.R, font: 'bold 15px ' + FONT, fill: '#000', align: 'left', verticalAlign: 'top', textAlign: 'left', textVerticalAlign: 'top'}});
});

function T(text, x, y, size, align) {
  return {type: 'text', x, y, style: {text, font: size + 'px ' + FONT, fill: '#111',
    align: align || 'center', verticalAlign: 'middle', textAlign: align || 'center', textVerticalAlign: 'middle'}};
}
texts.push(T('20 sec Duration Holds at different pressures', 222, 8, 12.4));
texts.push(T('30 mm Hg Pressure at different hold durations', 583, 8, 12.4));
texts.push(T('Valsalva Phase I', 68, 19, 10, 'left'));
texts.push(T('II', 171, 19, 10));
texts.push(T('III', 237, 19, 10));
texts.push(T('IV', 282, 19, 10));
texts.push(T('20 s Breath hold', 175, 717, 12));
texts.push(T('Seconds', 400, 742, 12.5));

const richL = {l: {fontSize: 11.8, lineHeight: 12, fontFamily: FONT, color: '#111'}};
const richR = {r: {width: 59, align: 'right', fontSize: 11.6, lineHeight: 12, fontFamily: FONT, color: '#111'}};
const option = {
  animation: false,
  backgroundColor: '#fff',
  grid: grids, xAxis: xAxes, yAxis: yAxes, series,
  legend: [
    {data: leftNames, orient: 'vertical', left: 145, top: 744, height: 90, itemWidth: 37, itemHeight: 3, itemGap: -1.2,
     icon: 'rect', selectedMode: false, borderColor: '#444', borderWidth: 1, padding: [2, 8, 3, 3],
     formatter: n => '{l|' + n + '}', textStyle: {rich: richL}},
    {data: rightNames, orient: 'vertical', left: 495, top: 752, height: 90, itemWidth: 39, itemHeight: 3, itemGap: -1.2,
     icon: 'rect', selectedMode: false, borderColor: '#444', borderWidth: 1, padding: [0, 6, 2, 3],
     formatter: n => '{r|' + n + '}', textStyle: {rich: richR}}
  ],
  graphic: {elements: texts}
};

const chart = echarts.init(document.getElementById('c'), null, {renderer: 'canvas'});
chart.setOption(option);
</script></body></html>
